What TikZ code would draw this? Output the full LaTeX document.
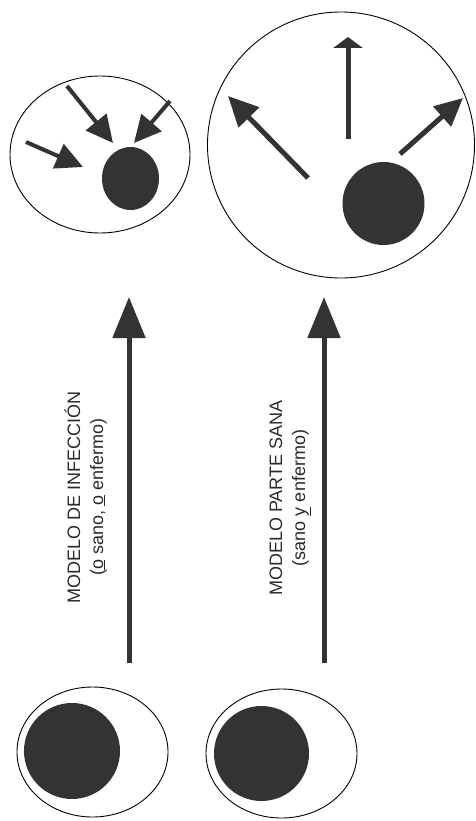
\documentclass[tikz,border=0pt]{standalone}
\usepackage{fontspec}
\setmainfont{Liberation Sans}
\usetikzlibrary{shapes.geometric,arrows.meta}
\definecolor{ink}{HTML}{333333}
\definecolor{txt}{HTML}{2A2A2A}
\begin{document}
\begin{tikzpicture}[x=1pt,y=-1pt,
  outline/.style={ellipse,draw=black,line width=0.9pt,inner sep=0pt,fill=white},
  blob/.style={ellipse,fill=ink,draw=none,inner sep=0pt},
  bigarrow/.style={draw=ink,line width=5pt,-{Triangle[length=41pt,width=32pt]}},
  smallarrow/.style={draw=ink,line width=4pt,-{Triangle[length=27pt,width=26pt]}},
  outarrow/.style={draw=ink,line width=5pt,-{Triangle[length=30pt,width=28pt]}},
  lbl/.style={rotate=90,anchor=base,inner sep=0pt,text=txt,font=\fontsize{18}{22}\selectfont}
]
\useasboundingbox (0,0) rectangle (475,821);

% bottom shapes
\node[outline,minimum width=151pt,minimum height=130pt] (b1) at (92.5,752) {};
\node[blob,minimum width=96pt,minimum height=96pt] (d1) at (72,751) {};
\node[outline,minimum width=151pt,minimum height=129pt] (b2) at (281.5,753.5) {};
\node[blob,minimum width=95pt,minimum height=95pt] (d2) at (261.5,753.5) {};

% top-left: infection model
\node[outline,minimum width=180pt,minimum height=157pt] (t1) at (100,154.5) {};
\node[blob,minimum width=57pt,minimum height=63pt] (c1) at (130.5,178.5) {};
\coordinate (i1s) at (26,142);  \coordinate (i1e) at (83,167);
\coordinate (i2s) at (67,86);   \coordinate (i2e) at (113,143);
\coordinate (i3s) at (170,101); \coordinate (i3e) at (134,143);
\draw[smallarrow] (i1s) -- (i1e);
\draw[smallarrow] (i2s) -- (i2e);
\draw[smallarrow] (i3s) -- (i3e);

% top-right: healthy part model
\node[outline,minimum width=267pt,minimum height=266pt] (t2) at (341,145) {};
\node[blob,minimum width=82pt,minimum height=83pt] (c2) at (383.5,203.5) {};
\coordinate (o1s) at (308,178); \coordinate (o1e) at (228,96);
\coordinate (o2s) at (348,139); \coordinate (o2e) at (348,37);
\coordinate (o3s) at (400,154); \coordinate (o3e) at (463,98);
\draw[outarrow] (o1s) -- (o1e);
\draw[draw=ink,line width=5pt,-{Triangle[length=11pt,width=29pt]}] (o2s) -- (o2e);
\draw[outarrow,-{Triangle[length=28pt,width=26pt]}] (o3s) -- (o3e);

% main arrows
\coordinate (m1s) at (129,663); \coordinate (m1e) at (129,297);
\coordinate (m2s) at (324,663); \coordinate (m2e) at (324,297);
\draw[bigarrow] (m1s) -- (m1e);
\draw[bigarrow] (m2s) -- (m2e);

% labels
\node[lbl] (l1a) at (80,497) {MODELO DE INFECCIÓN};
\node[lbl] (l1b) at (103,497) {(\underline{o} sano, \underline{o} enfermo)};
\node[lbl] (l2a) at (282,498) {MODELO PARTE SANA};
\node[lbl] (l2b) at (305,498) {(sano \underline{y} enfermo)};
\end{tikzpicture}
\end{document}
